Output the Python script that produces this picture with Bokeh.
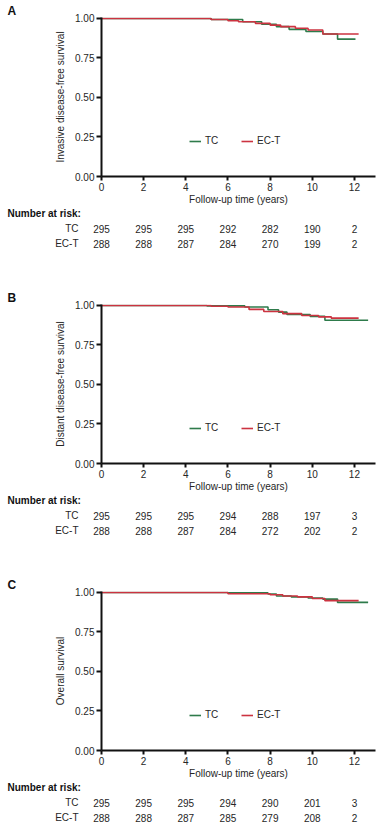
from bokeh.plotting import figure
from bokeh.layouts import column
from bokeh.models import Range1d, FixedTicker, PrintfTickFormatter
from bokeh.core.properties import value
from bokeh.embed import file_html
from bokeh.resources import INLINE

FONT = "Liberation Sans"
TC_COLOR = "#2e7b4b"
ECT_COLOR = "#cc3340"
TEXT_COLOR = "#262626"

x_ticks = [0, 2, 4, 6, 8, 10, 12]
y_ticks = [0.0, 0.25, 0.5, 0.75, 1.0]
risk_times = [0, 2, 4, 6, 8, 10, 12]
series_names = ["TC", "EC-T"]
panel_letters = ["A", "B", "C"]
y_titles = ["Invasive disease-free survival", "Distant disease-free survival", "Overall survival"]
risk_heading = "Number at risk:"

# Panel A: invasive disease-free survival
a_tc_t = [0, 5.2, 6.7, 7.6, 8.3, 8.9, 9.7, 10.5, 11.2, 12.05]
a_tc_s = [1.0, 0.993, 0.979, 0.963, 0.948, 0.931, 0.917, 0.902, 0.869, 0.869]
a_ect_t = [0, 5.2, 6.0, 6.5, 7.3, 8.0, 8.5, 9.2, 9.8, 10.5, 12.2]
a_ect_s = [1.0, 0.993, 0.985, 0.979, 0.969, 0.958, 0.948, 0.938, 0.927, 0.902, 0.902]
a_risk_tc = [295, 295, 295, 292, 282, 190, 2]
a_risk_ect = [288, 288, 287, 284, 270, 199, 2]

# Panel B: distant disease-free survival
b_tc_t = [0, 5.0, 6.8, 7.9, 8.4, 8.8, 9.9, 10.6, 12.65]
b_tc_s = [1.0, 0.997, 0.99, 0.973, 0.958, 0.943, 0.931, 0.906, 0.906]
b_ect_t = [0, 5.2, 6.0, 7.0, 7.7, 8.6, 9.5, 10.3, 10.9, 12.2]
b_ect_s = [1.0, 0.995, 0.99, 0.975, 0.962, 0.948, 0.936, 0.928, 0.92, 0.92]
b_risk_tc = [295, 295, 295, 294, 288, 197, 3]
b_risk_ect = [288, 288, 287, 284, 272, 202, 2]

# Panel C: overall survival
c_tc_t = [0, 6.0, 7.9, 8.3, 9.0, 9.8, 10.5, 11.2, 12.65]
c_tc_s = [1.0, 0.997, 0.99, 0.978, 0.972, 0.965, 0.958, 0.937, 0.937]
c_ect_t = [0, 6.0, 8.0, 8.6, 9.3, 10.0, 10.6, 12.2]
c_ect_s = [1.0, 0.992, 0.985, 0.978, 0.972, 0.962, 0.948, 0.948]
c_risk_tc = [295, 295, 295, 294, 290, 201, 3]
c_risk_ect = [288, 288, 287, 285, 279, 208, 2]

# ---- layout constants (pixels) ----
W = 376
B_LEFT, B_RIGHT = 101, 1
FRAME_H = 160
PLOT_TOP, PLOT_BOTTOM = 17, 30
X0, X1 = 0.0, 13.0
Y0, Y1 = 0.0, 1.006
FRAME_W = W - B_LEFT - B_RIGHT
PX_PER_X = FRAME_W / (X1 - X0)
ROW_TOP = 5.7     # px from table top to first row centre
ROW_PITCH = 15.3  # px between rows


def style_plain(p):
    p.outline_line_color = None
    p.xgrid.visible = False
    p.ygrid.visible = False
    p.background_fill_color = None
    p.border_fill_color = None
    p.min_border = 0
    p.frame_align = False


def make_plot(letter, ylabel, tc_t, tc_s, ect_t, ect_s):
    h = PLOT_TOP + FRAME_H + PLOT_BOTTOM
    p = figure(width=W, height=h, output_backend="svg", toolbar_location=None,
               x_range=Range1d(X0, X1), y_range=Range1d(Y0, Y1), title=letter)
    style_plain(p)
    p.min_border_left = B_LEFT
    p.min_border_right = B_RIGHT
    p.min_border_top = PLOT_TOP
    p.min_border_bottom = PLOT_BOTTOM

    p.title.align = "left"
    p.title.offset = -94
    p.title.standoff = 0
    p.title.text_font = FONT
    p.title.text_font_size = "12px"
    p.title.text_font_style = "bold"
    p.title.text_color = "#111111"

    p.step(tc_t, tc_s, mode="after", line_color=TC_COLOR, line_width=1.6,
           legend_label=series_names[0])
    p.step(ect_t, ect_s, mode="after", line_color=ECT_COLOR, line_width=1.6,
           legend_label=series_names[1])

    for ax in (p.xaxis[0], p.yaxis[0]):
        ax.axis_line_width = 2
        ax.axis_line_color = "#111111"
        ax.major_tick_line_width = 2
        ax.major_tick_line_color = "#111111"
        ax.minor_tick_line_color = None
        ax.major_tick_in = 0
        ax.major_label_text_font = FONT
        ax.major_label_text_font_size = "10px"
        ax.major_label_text_color = TEXT_COLOR
        ax.axis_label_text_font = FONT
        ax.axis_label_text_font_size = "10px"
        ax.axis_label_text_font_style = "normal"
        ax.axis_label_text_color = TEXT_COLOR

    p.xaxis.ticker = FixedTicker(ticks=x_ticks)
    p.xaxis.major_tick_out = 4
    p.xaxis.major_label_standoff = 2
    p.xaxis.axis_label = "Follow-up time (years)"
    p.xaxis.axis_label_standoff = 0

    p.yaxis.ticker = FixedTicker(ticks=y_ticks)
    p.yaxis.formatter = PrintfTickFormatter(format="%.2f")
    p.yaxis.major_tick_out = 5
    p.yaxis.major_label_standoff = 2
    p.yaxis.axis_label = ylabel
    p.yaxis.axis_label_standoff = 6

    leg = p.legend[0]
    leg.orientation = "horizontal"
    leg.location = (88, 30)
    leg.border_line_color = None
    leg.background_fill_alpha = 0
    leg.padding = 0
    leg.margin = 0
    leg.spacing = 16
    leg.glyph_width = 12
    leg.glyph_height = 10
    leg.label_height = 10
    leg.label_width = 20
    leg.label_standoff = 4
    leg.label_text_font = FONT
    leg.label_text_font_size = "10px"
    leg.label_text_color = TEXT_COLOR
    return p


def make_table(height, risk_tc, risk_ect):
    # frame spans the whole width; x mapped like the plot above
    xa = X0 - B_LEFT / PX_PER_X
    xb = X0 + (W - B_LEFT) / PX_PER_X
    # rows measured downwards: row index r at pixel ROW_TOP + r*ROW_PITCH
    r_top = -ROW_TOP / ROW_PITCH
    r_bot = (height - ROW_TOP) / ROW_PITCH
    p = figure(width=W, height=height, output_backend="svg", toolbar_location=None,
               x_range=Range1d(xa, xb), y_range=Range1d(r_bot, r_top))
    style_plain(p)
    p.xaxis.visible = False
    p.yaxis.visible = False

    p.text(x=[xa + 7 / PX_PER_X], y=[0], text=[risk_heading],
           text_font=value(FONT), text_font_size=value("10px"),
           text_font_style="bold", text_color="#111111",
           text_align="left", text_baseline="middle")
    lab_x = -23 / PX_PER_X
    p.text(x=[lab_x, lab_x], y=[1, 2], text=series_names,
           text_font=value(FONT), text_font_size=value("10px"),
           text_color=TEXT_COLOR, text_align="right", text_baseline="middle")
    for row, vals in ((1, risk_tc), (2, risk_ect)):
        p.text(x=risk_times, y=[row] * len(vals), text=[str(v) for v in vals],
               text_font=value(FONT), text_font_size=value("10px"),
               text_color=TEXT_COLOR, text_align="center", text_baseline="middle")
    return p


pA = make_plot(panel_letters[0], y_titles[0], a_tc_t, a_tc_s, a_ect_t, a_ect_s)
tA = make_table(80, a_risk_tc, a_risk_ect)
pB = make_plot(panel_letters[1], y_titles[1], b_tc_t, b_tc_s, b_ect_t, b_ect_s)
tB = make_table(80, b_risk_tc, b_risk_ect)
pC = make_plot(panel_letters[2], y_titles[2], c_tc_t, c_tc_s, c_ect_t, c_ect_s)
tC = make_table(42, c_risk_tc, c_risk_ect)

layout = column(pA, tA, pB, tB, pC, tC, spacing=0)
open("out.html", "w").write(file_html(layout, INLINE))
